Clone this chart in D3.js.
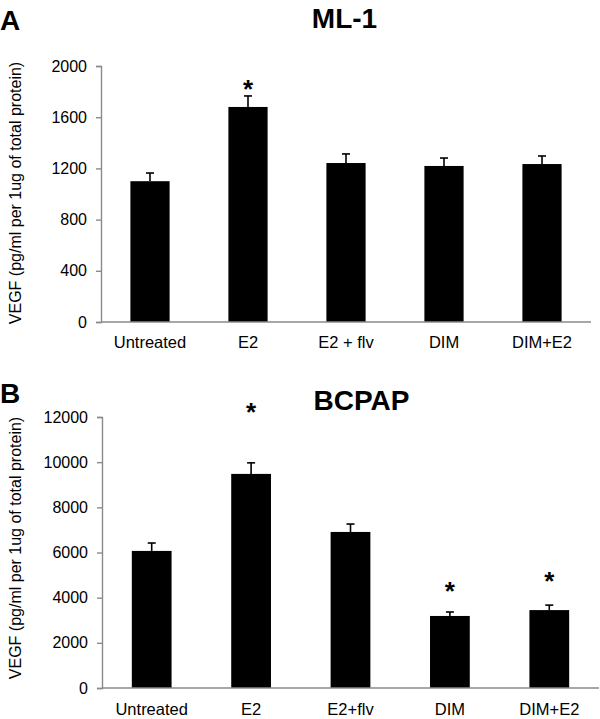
<!DOCTYPE html>
<html>
<head>
<meta charset="utf-8">
<script src="https://cdn.jsdelivr.net/npm/d3@7/dist/d3.min.js"></script>
<style>
  html, body { margin: 0; padding: 0; background: #fff; }
  svg { display: block; }
  text { font-family: "Liberation Sans", Arial, Helvetica, sans-serif; fill: #000; }
</style>
</head>
<body>
<svg id="chart" width="600" height="719"></svg>
<script>
// ---- Data ----
const categoriesA = ["Untreated", "E2", "E2 + flv", "DIM", "DIM+E2"];
const valuesA     = [1100, 1680, 1242, 1219, 1234];
const errorsA     = [64, 86, 71, 62, 63];
const starLevelsA = [null, 1851, null, null, null];   // asterisk placement, data units
const ticksA      = [0, 400, 800, 1200, 1600, 2000];

const categoriesB = ["Untreated", "E2", "E2+flv", "DIM", "DIM+E2"];
const valuesB     = [6070, 9480, 6910, 3190, 3450];
const errorsB     = [350, 490, 350, 175, 220];
const starLevelsB = [null, 12400, null, 4470, 4910];
const ticksB      = [0, 2000, 4000, 6000, 8000, 10000, 12000];

const yLabel = "VEGF (pg/ml per 1ug of total protein)";

const svg = d3.select("#chart");
const axisColor = "#8a8a8a";

function drawPanel(o) {
  const g = svg.append("g");
  const x = d3.scaleBand().domain(o.categories).range([o.left, o.right])
    .paddingInner(0.6).paddingOuter(0.3);
  const y = d3.scaleLinear().domain([0, d3.max(o.ticks)]).range([o.bottom, o.top]);

  // panel letter and title
  g.append("text").attr("x", 0).attr("y", o.letterY)
    .attr("font-size", 28).attr("font-weight", "bold").text(o.letter);
  g.append("text").attr("x", o.titleX).attr("y", o.titleY)
    .attr("text-anchor", "middle").attr("font-size", 28).attr("font-weight", "bold")
    .text(o.title);

  // y axis
  const ya = g.append("g").attr("transform", `translate(${o.left},0)`)
    .call(d3.axisLeft(y).tickValues(o.ticks).tickSize(5).tickPadding(9).tickFormat(d3.format("d")));
  ya.selectAll("path").attr("stroke", axisColor).attr("stroke-width", 1.4);
  ya.selectAll("line").attr("stroke", axisColor).attr("stroke-width", 1.4);
  ya.selectAll("text").attr("font-size", 16)
    .style("font-family", '"Liberation Sans", Arial, Helvetica, sans-serif').attr("fill", "#000");

  // y label
  g.append("text")
    .attr("transform", `translate(${o.yLabelX},${o.yLabelY}) rotate(-90)`)
    .attr("text-anchor", "middle").attr("font-size", 16).text(yLabel);

  // bars
  g.selectAll("rect.bar").data(o.values).enter().append("rect")
    .attr("x", (d, i) => x(o.categories[i]))
    .attr("width", x.bandwidth())
    .attr("y", d => y(d))
    .attr("height", d => y(0) - y(d))
    .attr("fill", "#000");

  // error bars (upper only)
  const eb = g.selectAll("g.err").data(o.values).enter().append("g");
  eb.append("line")
    .attr("x1", (d, i) => x(o.categories[i]) + x.bandwidth() / 2)
    .attr("x2", (d, i) => x(o.categories[i]) + x.bandwidth() / 2)
    .attr("y1", d => y(d))
    .attr("y2", (d, i) => y(d + o.errors[i]))
    .attr("stroke", "#000").attr("stroke-width", 1.6);
  eb.append("line")
    .attr("x1", (d, i) => x(o.categories[i]) + x.bandwidth() / 2 - 4)
    .attr("x2", (d, i) => x(o.categories[i]) + x.bandwidth() / 2 + 4)
    .attr("y1", (d, i) => y(d + o.errors[i]))
    .attr("y2", (d, i) => y(d + o.errors[i]))
    .attr("stroke", "#000").attr("stroke-width", 1.6);

  // x axis line
  g.append("line").attr("x1", o.left).attr("x2", o.right)
    .attr("y1", y(0)).attr("y2", y(0))
    .attr("stroke", axisColor).attr("stroke-width", 1.4);

  // x labels
  g.selectAll("text.xl").data(o.categories).enter().append("text")
    .attr("x", d => x(d) + x.bandwidth() / 2)
    .attr("y", o.xLabelY)
    .attr("text-anchor", "middle").attr("font-size", 16.5).text(d => d);

  // asterisks
  o.stars.forEach((s, i) => {
    if (s == null) return;
    g.append("text")
      .attr("x", x(o.categories[i]) + x.bandwidth() / 2)
      .attr("y", y(s) + 13)
      .attr("text-anchor", "middle").attr("font-size", 26).attr("font-weight", "bold")
      .text("*");
  });
}

drawPanel({
  categories: categoriesA, values: valuesA, errors: errorsA, stars: starLevelsA, ticks: ticksA,
  left: 101, right: 591, top: 66, bottom: 322,
  letter: "A", letterY: 30, title: "ML-1", titleX: 344.5, titleY: 28,
  yLabelX: 21, yLabelY: 193, xLabelY: 348
});

drawPanel({
  categories: categoriesB, values: valuesB, errors: errorsB, stars: starLevelsB, ticks: ticksB,
  left: 102, right: 599, top: 417, bottom: 688,
  letter: "B", letterY: 403, title: "BCPAP", titleX: 361.5, titleY: 410,
  yLabelX: 21, yLabelY: 548, xLabelY: 715
});
</script>
</body>
</html>
